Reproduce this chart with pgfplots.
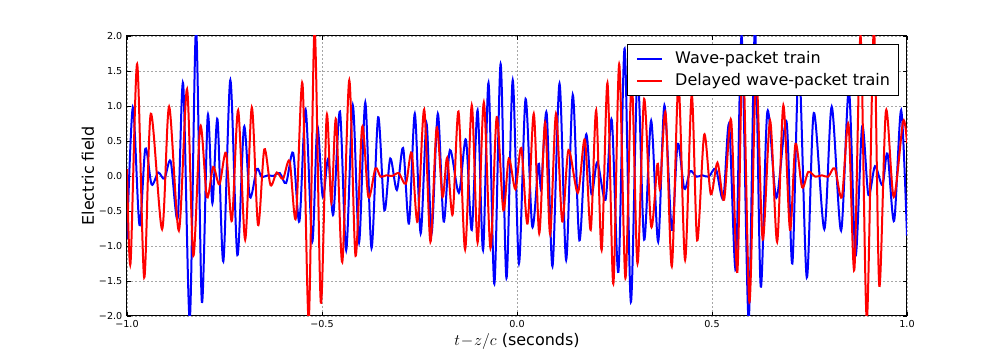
\documentclass[border=0pt]{standalone}
\usepackage{fontspec}
\setmainfont{DejaVu Sans}
\usepackage{pgfplots}
\pgfplotsset{compat=1.18}

% extrema (x in units of 1e-13 s)
\pgfplotstableread{
x y
-1.000 -0.90
-0.985 0.98
-0.968 -0.70
-0.953 0.39
-0.937 -0.12
-0.920 0.05
-0.904 -0.04
-0.888 0.21
-0.870 -0.60
-0.856 1.32
-0.839 -2.05
-0.823 2.10
-0.808 -1.80
-0.793 0.86
-0.781 -0.39
-0.768 0.81
-0.753 -1.22
-0.735 1.37
-0.717 -1.13
-0.700 0.70
-0.685 -0.30
-0.667 0.10
-0.655 -0.01
-0.638 0.01
-0.625 0.00
-0.608 0.04
-0.592 -0.10
-0.574 0.33
-0.558 -0.65
-0.542 0.95
-0.525 -0.94
-0.512 0.70
-0.498 -0.30
-0.484 0.25
-0.471 -0.55
-0.454 0.92
-0.438 -1.06
-0.421 1.01
-0.405 -0.95
-0.389 1.05
-0.373 -1.03
-0.356 0.84
-0.340 -0.49
-0.325 0.25
-0.308 -0.20
-0.292 0.40
-0.277 -0.68
-0.262 0.89
-0.247 -0.82
-0.232 0.75
-0.219 -0.82
-0.203 0.89
-0.188 -0.65
-0.172 0.37
-0.149 -0.24
-0.131 0.52
-0.116 -0.77
-0.101 0.94
-0.087 -1.06
-0.073 1.33
-0.058 -1.54
-0.042 1.60
-0.027 -1.46
-0.011 1.37
0.005 -1.25
0.022 1.10
0.039 -0.72
0.055 0.17
0.062 -0.17
0.076 0.90
0.091 -1.29
0.109 1.32
0.126 -1.20
0.143 1.16
0.160 -0.92
0.177 0.59
0.191 -0.26
0.206 0.20
0.227 -0.34
0.243 0.80
0.260 -1.37
0.276 1.82
0.292 -1.80
0.309 1.45
0.326 -0.91
0.344 0.79
0.362 -0.94
0.378 1.01
0.397 -0.77
0.412 0.46
0.429 -0.18
0.444 0.07
0.460 -0.01
0.475 0.01
0.492 -0.01
0.510 0.10
0.529 -0.32
0.544 0.73
0.561 -1.33
0.576 2.00
0.594 -2.05
0.610 2.10
0.625 -1.58
0.642 0.92
0.665 -0.31
0.691 0.78
0.706 -1.25
0.723 1.60
0.743 -1.45
0.761 0.90
0.788 -0.76
0.807 0.99
0.831 -0.78
0.851 1.24
0.868 -1.14
0.885 0.71
0.901 -0.27
0.918 0.14
0.937 -0.13
0.950 0.32
0.967 -0.64
0.985 0.94
1.000 -0.85
}\wavetrain

\pgfplotstableread{
x y
-1.000 0.10
-0.991 -1.25
-0.974 1.60
-0.956 -1.45
-0.939 0.89
-0.910 -0.76
-0.892 0.99
-0.867 -0.78
-0.846 1.24
-0.830 -1.14
-0.812 0.71
-0.795 -0.30
-0.779 0.13
-0.763 -0.12
-0.746 0.33
-0.731 -0.64
-0.715 0.94
-0.697 -0.91
-0.680 0.98
-0.664 -0.70
-0.648 0.38
-0.632 -0.13
-0.616 0.05
-0.600 -0.04
-0.583 0.21
-0.567 -0.60
-0.550 1.32
-0.534 -2.05
-0.519 2.10
-0.503 -1.81
-0.488 0.86
-0.476 -0.38
-0.464 0.81
-0.448 -1.23
-0.430 1.37
-0.414 -1.14
-0.397 0.70
-0.381 -0.30
-0.363 0.11
-0.350 -0.01
-0.335 0.01
-0.320 0.00
-0.303 0.04
-0.285 -0.11
-0.270 0.33
-0.255 -0.65
-0.238 0.95
-0.222 -0.94
-0.206 0.69
-0.191 -0.30
-0.179 0.26
-0.165 -0.55
-0.150 0.92
-0.133 -1.05
-0.116 1.01
-0.101 -0.95
-0.085 1.05
-0.068 -1.03
-0.052 0.84
-0.035 -0.49
-0.021 0.25
-0.004 -0.19
0.011 0.40
0.027 -0.68
0.043 0.89
0.057 -0.82
0.072 0.76
0.085 -0.83
0.100 0.89
0.116 -0.65
0.132 0.37
0.156 -0.24
0.174 0.52
0.189 -0.77
0.203 0.94
0.217 -1.06
0.232 1.33
0.247 -1.54
0.262 1.60
0.278 -1.46
0.294 1.37
0.309 -1.25
0.326 1.10
0.344 -0.72
0.360 0.17
0.367 -0.17
0.381 0.90
0.397 -1.29
0.414 1.32
0.431 -1.20
0.448 1.16
0.462 -0.92
0.480 0.59
0.497 -0.26
0.514 0.19
0.531 -0.34
0.549 0.80
0.565 -1.37
0.579 1.82
0.596 -1.80
0.613 1.45
0.630 -0.91
0.649 0.79
0.667 -0.94
0.683 1.01
0.700 -0.77
0.714 0.46
0.731 -0.16
0.747 0.06
0.765 -0.01
0.782 0.01
0.798 -0.01
0.815 0.11
0.833 -0.30
0.850 0.74
0.865 -1.34
0.881 2.00
0.897 -2.05
0.915 2.10
0.929 -1.57
0.946 0.93
0.966 -0.30
0.990 0.78
1.000 0.47
}\delayedtrain

\begin{document}
\begin{tikzpicture}
% page = 1008x360 px, 1 px = 0.75pt, axis box 780x280 px
\useasboundingbox (-95.25pt,-33pt) rectangle (660.75pt,237pt);
\begin{axis}[
  at={(0pt,0pt)}, anchor=south west,
  scale only axis, width=585pt, height=210pt,
  xmin=-1, xmax=1, ymin=-2, ymax=2,
  xtick={-1,-0.5,0,0.5,1},
  xticklabels={−1.0,−0.5,0.0,0.5,1.0},
  ytick={-2,-1.5,-1,-0.5,0,0.5,1,1.5,2},
  yticklabels={−2.0,−1.5,−1.0,−0.5,0.0,0.5,1.0,1.5,2.0},
  tick label style={font=\fontsize{7.2}{8}\selectfont},
  grid=major,
  grid style={black!35, dash pattern=on 1.5pt off 1.5pt, line width=0.5pt},
  axis line style={line width=0.75pt},
  tick style={black, line width=0.6pt},
  major tick length=3pt,
  xlabel={$t\!-\!z/c$ (seconds)},
  ylabel={Electric field},
  label style={font=\fontsize{12}{14}\selectfont},
  xlabel style={at={(axis description cs:0.5,-0.092)}, anchor=center},
  ylabel style={at={(axis description cs:-0.05,0.5)}, anchor=center},
  legend style={at={(0.990,0.971)}, anchor=north east, draw=black, fill=white,
    line width=0.75pt, font=\fontsize{12}{14}\selectfont,
    inner xsep=6.5pt, inner ysep=4.9pt, row sep=4.5pt,
    nodes={inner sep=0pt, text height=9pt, text depth=3pt},
    /tikz/every odd column/.append style={column sep=9pt}},
  legend cell align=left,
  legend image code/.code={\draw[#1] (0pt,0pt) -- (19pt,0pt);},
]
\addplot[blue, line width=1.5pt, smooth, no markers] table {\wavetrain};
\addlegendentry{Wave-packet train}
\addplot[red, line width=1.5pt, smooth, no markers] table {\delayedtrain};
\addlegendentry{Delayed wave-packet train}
\node[anchor=east, inner sep=0pt, font=\fontsize{7.2}{8}\selectfont]
  at (rel axis cs:1,0) [yshift=-12.75pt] {1e−13};
\end{axis}
\end{tikzpicture}
\end{document}
